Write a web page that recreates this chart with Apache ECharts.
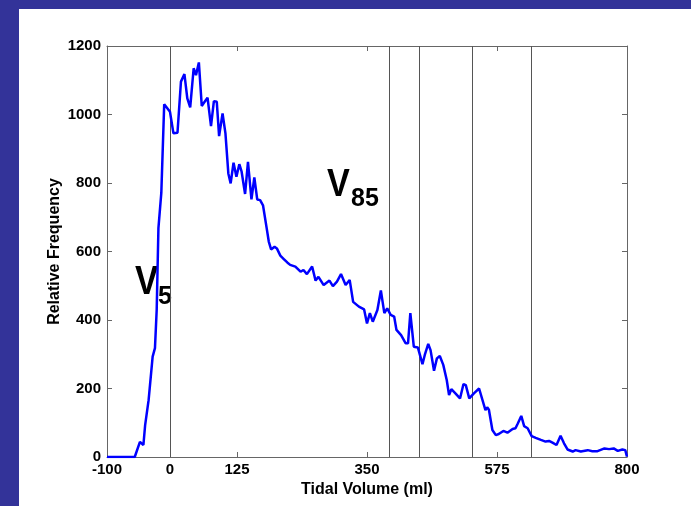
<!DOCTYPE html>
<html>
<head>
<meta charset="utf-8">
<script src="https://cdn.jsdelivr.net/npm/echarts@6/dist/echarts.min.js"></script>
<style>
  html, body { margin: 0; padding: 0; width: 691px; height: 506px; overflow: hidden; background: #333399; }
  #panel { position: absolute; left: 19px; top: 9px; right: 0; bottom: 0; background: #ffffff; }
  #chart { position: absolute; left: 0; top: 0; width: 691px; height: 506px; }
</style>
</head>
<body>
<div id="panel"></div>
<div id="chart"></div>
<script>
// Tidal volume distribution (ml) and its relative frequency
const volume = [
  -100, -52, -43, -37, -34, -28, -21, -17, -14, -11, -6, -1, 9, 15, 22, 28, 34, 39, 44, 50,
  54, 59, 64, 69, 74, 80, 85, 90, 94, 100, 105, 110, 114, 119, 124, 129, 133, 139, 144, 150,
  155, 160, 165, 170, 176, 180, 184, 190, 194, 200, 206, 212, 217, 226, 235, 240, 246, 255, 261, 266,
  275, 285, 291, 298, 305, 313, 320, 326, 336, 345, 350, 355, 360, 368, 374, 380, 385, 391, 397, 401,
  409, 417, 421, 425, 431, 438, 446, 450, 456, 460, 466, 471, 476, 482, 488, 492, 496, 503, 511, 517,
  521, 527, 535, 544, 547, 555, 558, 561, 567, 573, 578, 586, 593, 602, 607, 611, 617, 622, 628, 635,
  642, 651, 659, 665, 671, 678, 685, 691, 697, 706, 711, 720, 732, 740, 749, 761, 769, 777, 784, 792,
  797, 800
];
const frequency = [
  0, 0, 44, 35, 93, 166, 293, 318, 429, 668, 771, 1030, 1008, 945, 947, 1096, 1118, 1047, 1021, 1135,
  1115, 1152, 1025, 1037, 1049, 966, 1039, 1037, 937, 1003, 945, 828, 799, 859, 818, 855, 833, 768, 862, 752,
  816, 752, 750, 735, 672, 629, 606, 614, 609, 588, 578, 568, 561, 556, 541, 546, 534, 556, 515, 526,
  502, 515, 499, 512, 534, 502, 517, 453, 439, 431, 390, 420, 395, 429, 486, 420, 434, 415, 410, 371,
  356, 332, 332, 420, 322, 320, 271, 298, 330, 312, 252, 288, 295, 269, 225, 181, 198, 186, 171, 213,
  210, 171, 186, 200, 203, 137, 145, 138, 79, 64, 67, 76, 71, 82, 84, 98, 120, 90, 84, 61,
  56, 50, 45, 47, 42, 35, 62, 40, 22, 16, 20, 16, 20, 17, 17, 25, 23, 25, 18, 22,
  20, 1
];

// Volume markers drawn as vertical lines (V5, V85 and further cut-offs)
const markerVolumes = [9, 389, 441, 533, 635];

// Bottom axis tick positions and their printed labels
const xTickValues = [-100, 9, 125, 350, 575, 800];
const xTickLabels = ['-100', '0', '125', '350', '575', '800'];
const xTopTicks = [125, 350, 575];

const chart = echarts.init(document.getElementById('chart'), null, { renderer: 'canvas' });

const axisGray = '#666666';
const labelFont = { color: '#000', fontFamily: 'Liberation Sans, Arial, sans-serif', fontWeight: 'bold', fontSize: 15 };

const points = volume.map((v, i) => [v, frequency[i]]);

chart.setOption({
  animation: false,
  grid: { left: 107, right: 64, top: 46, bottom: 49, containLabel: false },
  xAxis: [
    {
      type: 'value', min: -100, max: 800, position: 'bottom',
      name: 'Tidal Volume (ml)', nameLocation: 'middle', nameGap: 25, nameMoveOverlap: false,
      nameTextStyle: { color: '#000', fontFamily: 'Liberation Sans, Arial, sans-serif', fontWeight: 'bold', fontSize: 16 },
      axisLine: { show: true, onZero: false, lineStyle: { color: axisGray, width: 1 } },
      axisTick: { show: true, inside: true, length: 5, customValues: xTickValues, lineStyle: { color: axisGray } },
      axisLabel: Object.assign({ margin: 5, customValues: xTickValues,
        formatter: v => xTickLabels[xTickValues.indexOf(v)] }, labelFont),
      splitLine: { show: false }
    },
    {
      type: 'value', min: -100, max: 800, position: 'top',
      axisLine: { show: true, onZero: false, lineStyle: { color: axisGray, width: 1 } },
      axisTick: { show: true, inside: true, length: 5, customValues: xTopTicks, lineStyle: { color: axisGray } },
      axisLabel: { show: false },
      splitLine: { show: false }
    }
  ],
  yAxis: [
    {
      type: 'value', min: 0, max: 1200, interval: 200, position: 'left',
      name: 'Relative Frequency', nameLocation: 'middle', nameGap: 44, nameMoveOverlap: false,
      nameTextStyle: { color: '#000', fontFamily: 'Liberation Sans, Arial, sans-serif', fontWeight: 'bold', fontSize: 16 },
      axisLine: { show: true, onZero: false, lineStyle: { color: axisGray, width: 1 } },
      axisTick: { show: true, inside: true, length: 5, lineStyle: { color: axisGray } },
      axisLabel: Object.assign({ margin: 6, formatter: v => String(v) }, labelFont),
      splitLine: { show: false }
    },
    {
      type: 'value', min: 0, max: 1200, interval: 200, position: 'right',
      axisLine: { show: true, onZero: false, lineStyle: { color: axisGray, width: 1 } },
      axisTick: { show: true, inside: true, length: 5, lineStyle: { color: axisGray } },
      axisLabel: { show: false },
      splitLine: { show: false }
    }
  ],
  series: [
    {
      type: 'line',
      data: points,
      showSymbol: false,
      symbol: 'none',
      lineStyle: { color: '#0000ff', width: 2.5 },
      z: 3,
      markLine: {
        silent: true,
        symbol: ['none', 'none'],
        label: { show: false },
        lineStyle: { color: '#555555', width: 1, type: 'solid' },
        z: 2,
        data: markerVolumes.map(v => ({ xAxis: v }))
      }
    }
  ],
  graphic: [
    { type: 'text', x: 135, y: 282.5, scaleX: 0.87, style: { text: 'V', x: 0, y: 0, fill: '#000', font: 'bold 40px Liberation Sans, Arial, sans-serif', textAlign: 'left', textVerticalAlign: 'middle' } },
    { type: 'text', x: 158, y: 297, style: { text: '5', x: 0, y: 0, fill: '#000', font: 'bold 25px Liberation Sans, Arial, sans-serif', textAlign: 'left', textVerticalAlign: 'middle' } },
    { type: 'text', x: 327, y: 185.5, scaleX: 0.9, style: { text: 'V', x: 0, y: 0, fill: '#000', font: 'bold 38px Liberation Sans, Arial, sans-serif', textAlign: 'left', textVerticalAlign: 'middle' } },
    { type: 'text', x: 351, y: 199, style: { text: '85', x: 0, y: 0, fill: '#000', font: 'bold 25px Liberation Sans, Arial, sans-serif', textAlign: 'left', textVerticalAlign: 'middle' } }
  ]
});
</script>
</body>
</html>
